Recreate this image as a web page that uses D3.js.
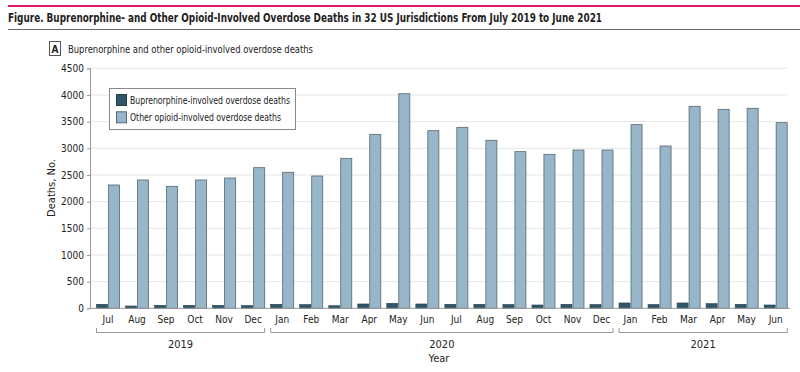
<!DOCTYPE html>
<html>
<head>
<meta charset="utf-8">
<script src="https://cdn.jsdelivr.net/npm/d3@7"></script>
<style>
  body { margin: 0; background: #fff; }
  svg text { font-family: "DejaVu Sans Condensed", "DejaVu Sans", sans-serif; font-stretch: condensed; fill: #222; }
</style>
</head>
<body>
<div id="chart"></div>
<script>
// data
const months = ['Jul','Aug','Sep','Oct','Nov','Dec','Jan','Feb','Mar','Apr','May','Jun',
                'Jul','Aug','Sep','Oct','Nov','Dec','Jan','Feb','Mar','Apr','May','Jun'];
const monthYear = [2019,2019,2019,2019,2019,2019,2020,2020,2020,2020,2020,2020,
                   2020,2020,2020,2020,2020,2020,2021,2021,2021,2021,2021,2021];
const years = [2019, 2020, 2021];
const buprenorphine = [75,43,56,56,56,51,75,70,48,81,94,81,75,75,70,62,75,70,100,70,100,87,75,62];
const otherOpioid = [2312,2406,2287,2406,2443,2637,2550,2481,2812,3262,4024,3330,
                     3393,3150,2937,2887,2968,2968,3443,3043,3787,3731,3750,3480];
const yTicks = [0,500,1000,1500,2000,2500,3000,3500,4000,4500];
const seriesNames = ['Buprenorphine-involved overdose deaths', 'Other opioid-involved overdose deaths'];
const seriesColors = ['#2f5668', '#98b6c9'];

const W = 800, H = 372;
const svg = d3.select('#chart').append('svg').attr('width', W).attr('height', H);

// header
svg.append('line').attr('x1', 8).attr('x2', W).attr('y1', 6).attr('y2', 6)
  .attr('stroke', '#e0176f').attr('stroke-width', 2);
svg.append('text').attr('x', 8).attr('y', 22)
  .attr('font-size', 13).attr('font-weight', 'bold')
  .attr('textLength', 594).attr('lengthAdjust', 'spacingAndGlyphs')
  .text('Figure. Buprenorphine- and Other Opioid-Involved Overdose Deaths in 32 US Jurisdictions From July 2019 to June 2021');
svg.append('line').attr('x1', 8).attr('x2', W).attr('y1', 29.5).attr('y2', 29.5)
  .attr('stroke', '#666').attr('stroke-width', 1);

// panel label
svg.append('rect').attr('x', 49.5).attr('y', 41.5).attr('width', 11).attr('height', 14)
  .attr('fill', '#fff').attr('stroke', '#555');
svg.append('text').attr('x', 55).attr('y', 52.5).attr('text-anchor', 'middle')
  .attr('font-size', 10).attr('font-weight', 'bold').text('A');
svg.append('text').attr('x', 68).attr('y', 52.5).attr('font-size', 11)
  .attr('textLength', 245).attr('lengthAdjust', 'spacingAndGlyphs')
  .text('Buprenorphine and other opioid-involved overdose deaths');

// scales
const x = d3.scaleBand().domain(d3.range(months.length)).range([93.5, 790.2]).padding(0);
const xi = d3.scaleBand().domain([0, 1]).range([3, x.bandwidth() - 3]).paddingInner(0.08);
const y = d3.scaleLinear().domain([0, 4500]).range([308.3, 68.3]);

// grid
svg.append('g').selectAll('line').data(yTicks.filter(d => d > 0)).join('line')
  .attr('x1', 90).attr('x2', 788)
  .attr('y1', d => y(d)).attr('y2', d => y(d))
  .attr('stroke', '#e6e6e6');

// bars
const groups = svg.append('g').selectAll('g').data(months).join('g')
  .attr('transform', (d, i) => `translate(${x(i)},0)`);
groups.append('rect')
  .attr('x', xi(0)).attr('width', xi.bandwidth())
  .attr('y', (d, i) => y(buprenorphine[i]))
  .attr('height', (d, i) => y(0) - y(buprenorphine[i]))
  .attr('fill', seriesColors[0]).attr('stroke', '#243f4c').attr('stroke-width', 0.6);
groups.append('rect')
  .attr('x', xi(1)).attr('width', xi.bandwidth())
  .attr('y', (d, i) => y(otherOpioid[i]))
  .attr('height', (d, i) => y(0) - y(otherOpioid[i]))
  .attr('fill', seriesColors[1]).attr('stroke', '#55666f').attr('stroke-width', 0.8);

// baseline
svg.append('line').attr('x1', 90).attr('x2', 790).attr('y1', y(0)).attr('y2', y(0))
  .attr('stroke', '#999').attr('stroke-width', 1);

// y axis
const yAxis = svg.append('g').attr('transform', 'translate(90,0)')
  .call(d3.axisLeft(y).tickValues(yTicks).tickSize(3).tickPadding(3).tickFormat(d3.format('d')));
yAxis.select('.domain').attr('stroke', '#999');
yAxis.selectAll('.tick line').attr('stroke', '#999');
yAxis.selectAll('text').attr('font-size', 10).attr('font-family', null).attr('fill', '#222');

svg.append('text').attr('transform', 'translate(55,188) rotate(-90)')
  .attr('text-anchor', 'middle').attr('font-size', 11).text('Deaths, No.');

// month labels
svg.append('g').selectAll('text').data(months).join('text')
  .attr('x', (d, i) => x(i) + x.bandwidth() / 2).attr('y', 323)
  .attr('text-anchor', 'middle').attr('font-size', 10).text(d => d);

// year brackets
years.forEach(yr => {
  const idx = monthYear.map((m, i) => m === yr ? i : -1).filter(i => i >= 0);
  const x0 = x(idx[0]) + 3, x1 = x(idx[idx.length - 1]) + x.bandwidth() - 3;
  svg.append('path')
    .attr('d', `M${x0},328V332.5H${x1}V328`)
    .attr('fill', 'none').attr('stroke', '#999').attr('stroke-width', 1);
  svg.append('text').attr('x', (x0 + x1) / 2).attr('y', 348)
    .attr('text-anchor', 'middle').attr('font-size', 11).text(yr);
});
svg.append('text').attr('x', 439).attr('y', 362)
  .attr('text-anchor', 'middle').attr('font-size', 11).text('Year');

// legend
const lg = svg.append('g');
lg.append('rect').attr('x', 109.5).attr('y', 88.5).attr('width', 186).attr('height', 41)
  .attr('fill', '#fff').attr('stroke', '#888');
const legendWidths = [160, 151];
seriesNames.forEach((name, i) => {
  lg.append('rect').attr('x', 116.5).attr('y', 94.5 + i * 17.3).attr('width', 10).attr('height', 11)
    .attr('fill', seriesColors[i]).attr('stroke', i ? '#55666f' : '#243f4c');
  lg.append('text').attr('x', 130).attr('y', 104 + i * 17.3).attr('font-size', 10.5)
    .attr('textLength', legendWidths[i]).attr('lengthAdjust', 'spacingAndGlyphs').text(name);
});
</script>
</body>
</html>
